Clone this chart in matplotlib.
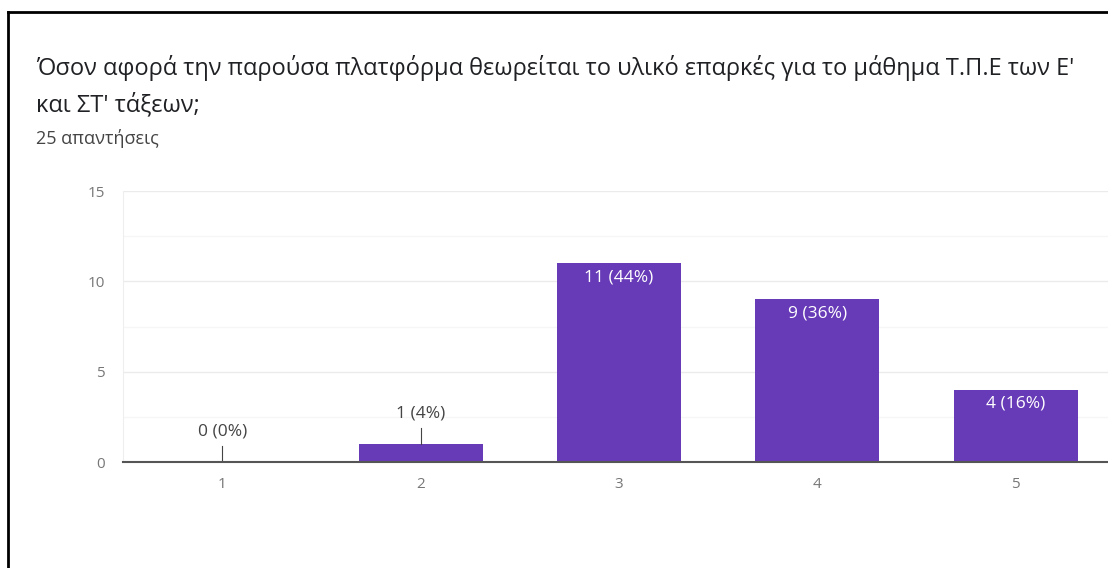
import matplotlib
matplotlib.use("Agg")
import matplotlib.pyplot as plt
from matplotlib.lines import Line2D

# Survey responses on a 1-5 scale
categories = ["1", "2", "3", "4", "5"]
counts = [0, 1, 11, 9, 4]
total_responses = 25

title_lines = [
    "Όσον αφορά την παρούσα πλατφόρμα θεωρείται το υλικό επαρκές για το μάθημα Τ.Π.Ε των Ε'",
    "και ΣΤ' τάξεων;",
]
subtitle_text = f"{total_responses} απαντήσεις"
y_ticks = [0, 5, 10, 15]

plt.rcParams["font.family"] = ["Open Sans", "DejaVu Sans"]

BAR = "#673ab7"
TICK_GREY = "#777777"
W, H = 1108, 568

fig = plt.figure(figsize=(W / 100, H / 100), dpi=100)
fig.patch.set_facecolor("white")

# Card frame: left and top edges
fig.add_artist(Line2D([8 / W, 8 / W], [0, 1 - 12 / H], transform=fig.transFigure,
                      color="black", lw=2))
fig.add_artist(Line2D([8 / W, 1.0], [1 - 12 / H, 1 - 12 / H], transform=fig.transFigure,
                      color="black", lw=2))

for line, ypix in zip(title_lines, (68, 105)):
    fig.text(36 / W, 1 - ypix / H, line, fontsize=17, color="#202124",
             va="center", ha="left")
fig.text(36 / W, 1 - 138 / H, subtitle_text, fontsize=13, color="#444444",
         va="center", ha="left")

ax = fig.add_axes([123 / W, (H - 462) / H, (1115 - 123) / W, 271 / H])
x = list(range(len(categories)))
ax.bar(x, counts, width=0.625, color=BAR, zorder=3)

ax.set_xlim(-0.5, len(categories) - 0.5)
ax.set_ylim(0, 15)
ax.set_yticks(y_ticks)
ax.set_yticks([2.5, 7.5, 12.5], minor=True)
ax.set_xticks(x)
ax.set_xticklabels(categories)
ax.tick_params(axis="both", length=0, colors=TICK_GREY, labelsize=11)
ax.tick_params(axis="y", which="minor", length=0)
ax.tick_params(axis="x", pad=11)
ax.tick_params(axis="y", pad=13)

ax.grid(axis="y", which="major", color="#ebebeb", lw=1, zorder=0)
ax.grid(axis="y", which="minor", color="#f6f6f6", lw=1, zorder=0)
for side in ("top", "right"):
    ax.spines[side].set_visible(False)
ax.spines["left"].set_color("#eeeeee")
ax.spines["bottom"].set_color("#555555")
ax.spines["bottom"].set_linewidth(1.5)
ax.spines["bottom"].set_zorder(4)

for xi, c in zip(x, counts):
    label = f"{c} ({round(100 * c / total_responses)}%)"
    if c >= 3:
        ax.annotate(label, (xi, c), xytext=(0, -10), textcoords="offset points",
                    ha="center", va="center", color="white", fontsize=12.5, zorder=5)
    else:
        ax.plot([xi, xi], [c, c + 0.9], color="#444444", lw=0.8, zorder=4)
        ax.annotate(label, (xi, c + 0.9), xytext=(0, 10), textcoords="offset points",
                    ha="center", va="center", color="#444444", fontsize=12.5, zorder=5)

fig.savefig("out.png", dpi=100, facecolor="white")
